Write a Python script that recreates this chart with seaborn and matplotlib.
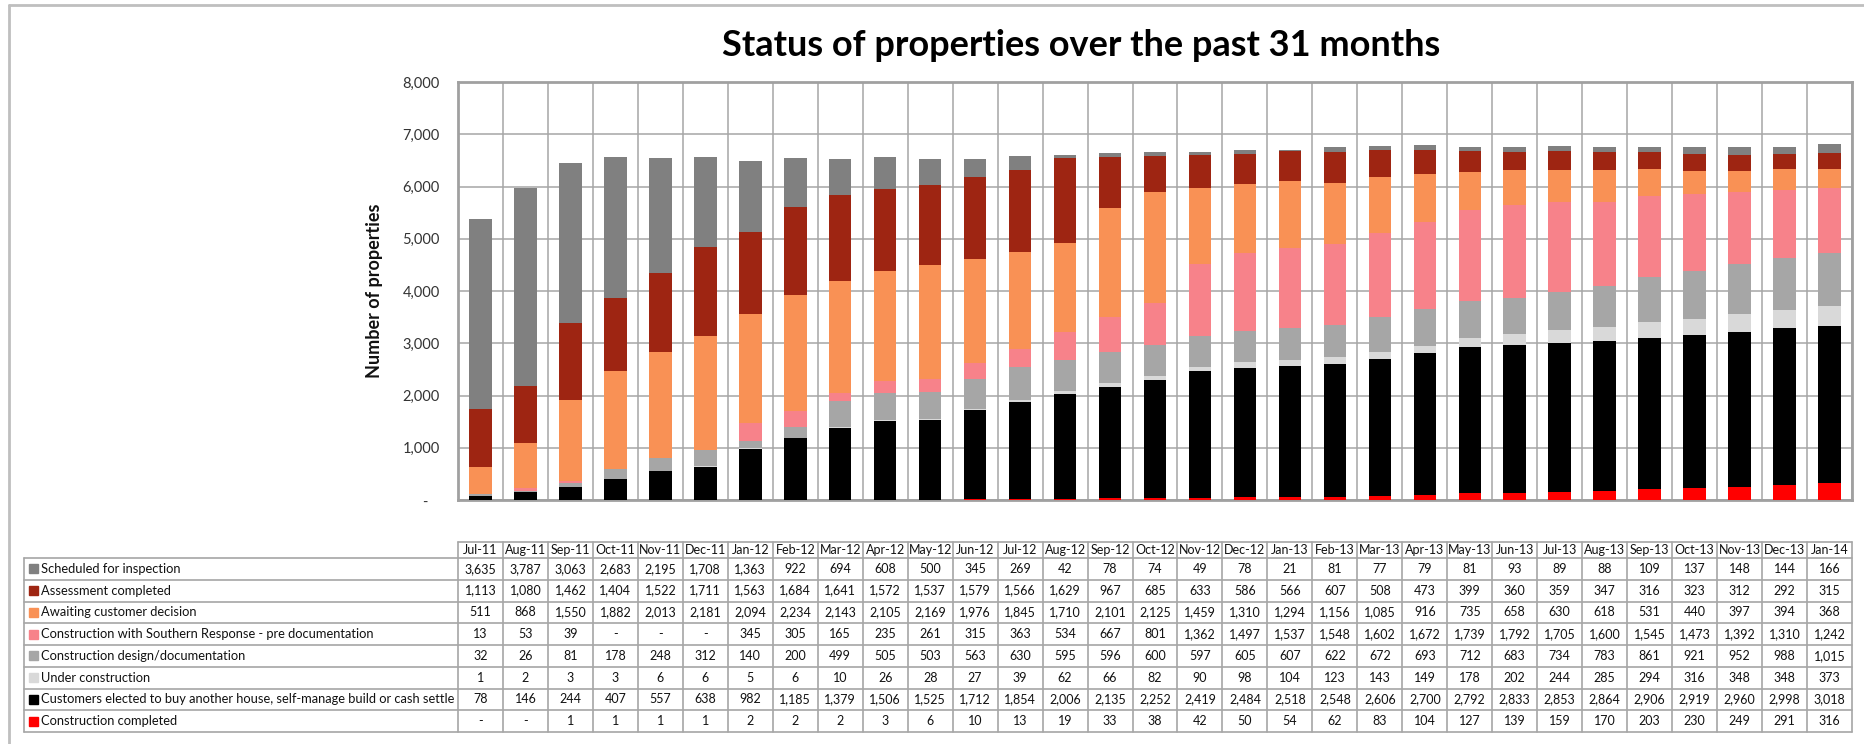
import numpy as np
import pandas as pd
import matplotlib
matplotlib.use("Agg")
import matplotlib.pyplot as plt
import seaborn as sns
from matplotlib.transforms import blended_transform_factory
from matplotlib.lines import Line2D
from matplotlib.patches import Rectangle
from matplotlib.ticker import FuncFormatter, MultipleLocator

months = ["Jul-11", "Aug-11", "Sep-11", "Oct-11", "Nov-11", "Dec-11", "Jan-12", "Feb-12",
          "Mar-12", "Apr-12", "May-12", "Jun-12", "Jul-12", "Aug-12", "Sep-12", "Oct-12",
          "Nov-12", "Dec-12", "Jan-13", "Feb-13", "Mar-13", "Apr-13", "May-13", "Jun-13",
          "Jul-13", "Aug-13", "Sep-13", "Oct-13", "Nov-13", "Dec-13", "Jan-14"]

scheduled = [3635, 3787, 3063, 2683, 2195, 1708, 1363, 922, 694, 608, 500, 345, 269, 42, 78, 74,
             49, 78, 21, 81, 77, 79, 81, 93, 89, 88, 109, 137, 148, 144, 166]
assessment = [1113, 1080, 1462, 1404, 1522, 1711, 1563, 1684, 1641, 1572, 1537, 1579, 1566, 1629,
              967, 685, 633, 586, 566, 607, 508, 473, 399, 360, 359, 347, 316, 323, 312, 292, 315]
awaiting = [511, 868, 1550, 1882, 2013, 2181, 2094, 2234, 2143, 2105, 2169, 1976, 1845, 1710, 2101,
            2125, 1459, 1310, 1294, 1156, 1085, 916, 735, 658, 630, 618, 531, 440, 397, 394, 368]
predoc = [13, 53, 39, 0, 0, 0, 345, 305, 165, 235, 261, 315, 363, 534, 667, 801, 1362, 1497, 1537,
          1548, 1602, 1672, 1739, 1792, 1705, 1600, 1545, 1473, 1392, 1310, 1242]
design = [32, 26, 81, 178, 248, 312, 140, 200, 499, 505, 503, 563, 630, 595, 596, 600, 597, 605,
          607, 622, 672, 693, 712, 683, 734, 783, 861, 921, 952, 988, 1015]
under = [1, 2, 3, 3, 6, 6, 5, 6, 10, 26, 28, 27, 39, 62, 66, 82, 90, 98, 104, 123, 143, 149, 178,
         202, 244, 285, 294, 316, 348, 348, 373]
customers = [78, 146, 244, 407, 557, 638, 982, 1185, 1379, 1506, 1525, 1712, 1854, 2006, 2135, 2252,
             2419, 2484, 2518, 2548, 2606, 2700, 2792, 2833, 2853, 2864, 2906, 2919, 2960, 2998, 3018]
completed = [0, 0, 1, 1, 1, 1, 2, 2, 2, 3, 6, 10, 13, 19, 33, 38, 42, 50, 54, 62, 83, 104, 127,
             139, 159, 170, 203, 230, 249, 291, 316]

labels = ["Scheduled for inspection", "Assessment completed", "Awaiting customer decision",
          "Construction with Southern Response - pre documentation",
          "Construction design/documentation", "Under construction",
          "Customers elected to buy another house, self-manage build or cash settle",
          "Construction completed"]
series = [scheduled, assessment, awaiting, predoc, design, under, customers, completed]
colors = ["#808080", "#9E2512", "#F99155", "#F7828A", "#A6A6A6", "#D9D9D9", "#000000", "#FF0000"]

W, H = 1865, 744
sns.set_style("white")
plt.rcParams["font.family"] = ["Lato", "DejaVu Sans"]

fig = plt.figure(figsize=(W / 100, H / 100), dpi=100)
fx = lambda px: px / W
fy = lambda py: 1 - py / H

ax_left, ax_right, ax_top, ax_bot = 458, 1852, 82, 500
ax = fig.add_axes([fx(ax_left), fy(ax_bot), fx(ax_right - ax_left), (ax_bot - ax_top) / H])

# stacked bars: draw cumulative totals from the top layer down
df = pd.DataFrame({lab: s for lab, s in zip(labels, series)}, index=months)
stack_order = labels[::-1]  # bottom -> top
cum = df[stack_order].cumsum(axis=1)
for lab, col in zip(labels, colors):
    sns.barplot(x=months, y=cum[lab].values, order=months, color=col, saturation=1,
                width=0.5, linewidth=0, ax=ax, zorder=3)

ax.set_xlim(-0.5, len(months) - 0.5)
ax.set_ylim(0, 8000)
ax.yaxis.set_major_locator(MultipleLocator(1000))
ax.yaxis.set_major_formatter(FuncFormatter(lambda v, p: "-   " if v == 0 else f"{v:,.0f}"))
ax.set_xticks(np.arange(len(months)) + 0.5, minor=False)
ax.set_xticklabels([])
ax.tick_params(axis="both", length=0)
ax.tick_params(axis="y", pad=13, labelsize=10.5, labelcolor="#333333")
ax.set_xlabel("")
ax.set_ylabel("Number of properties", fontsize=13, fontweight="bold", labelpad=14, color="#111111")
ax.grid(True, axis="both", color="#A6A6A6", linewidth=1.1, zorder=0)
ax.set_axisbelow(True)
for s in ax.spines.values():
    s.set_visible(True)
    s.set_color("#A0A0A0")
    s.set_linewidth(2)

fig.text(fx(1081), fy(45), "Status of properties over the past 31 months", ha="center",
         va="center", fontsize=26, fontweight="bold", color="#000000")

# outer frame (top and left)
frame_c = "#BFBFBF"
fig.add_artist(Line2D([fx(9), 1], [fy(5), fy(5)], color=frame_c, lw=2, transform=fig.transFigure))
fig.add_artist(Line2D([fx(9), fx(9)], [fy(5), 0], color=frame_c, lw=2, transform=fig.transFigure))

# data table
tr = blended_transform_factory(ax.transData, fig.transFigure)
grid_c = "#A6A6A6"
hdr_top, row_top, row_h = 542, 558, 21.75
n = len(months)
lab_left = 24
tbl_bot = row_top + row_h * len(labels)
num_fs, lab_fs = 9.0, 9.3

# header
for i, m in enumerate(months):
    fig.text(i, fy((hdr_top + row_top) / 2), m, transform=tr, ha="center", va="center",
             fontsize=num_fs, color="#111111")
fig.add_artist(Line2D([-0.5, n - 0.5], [fy(hdr_top), fy(hdr_top)], color=grid_c, lw=1.2, transform=tr))
for i in range(n + 1):
    fig.add_artist(Line2D([i - 0.5, i - 0.5], [fy(hdr_top), fy(tbl_bot)], color=grid_c, lw=1.2,
                          transform=tr))
# row lines
for r in range(len(labels) + 1):
    y = fy(row_top + r * row_h)
    fig.add_artist(Line2D([fx(lab_left), fx(ax_right)], [y, y], color=grid_c, lw=1.2,
                          transform=fig.transFigure))
fig.add_artist(Line2D([fx(lab_left), fx(lab_left)], [fy(row_top), fy(tbl_bot)], color=grid_c,
                      lw=1.2, transform=fig.transFigure))

for r, (lab, s, col) in enumerate(zip(labels, series, colors)):
    yc = row_top + r * row_h + row_h / 2
    fig.add_artist(Rectangle((fx(29), fy(yc + 4.5)), fx(9), 9 / H, color=col,
                             transform=fig.transFigure))
    fig.text(fx(41), fy(yc), lab, ha="left", va="center", fontsize=lab_fs, color="#111111")
    for i, v in enumerate(s):
        fig.text(i, fy(yc), "-" if v == 0 else f"{v:,}", transform=tr, ha="center",
                 va="center", fontsize=num_fs, color="#111111")

fig.savefig("out.png", dpi=100)
